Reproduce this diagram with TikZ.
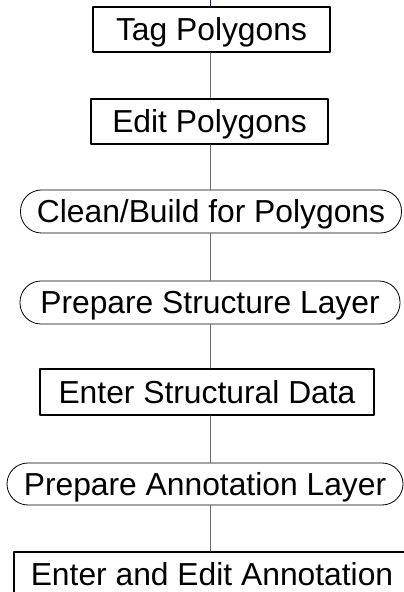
\documentclass[tikz,border=0pt]{standalone}
\usepackage{fontspec}
\setmainfont{Liberation Sans}
\usetikzlibrary{positioning}
\definecolor{linkgray}{RGB}{110,110,110}
\definecolor{topnavy}{RGB}{30,30,110}
\tikzset{
  stepbox/.style={draw=black,line width=2pt,rectangle,inner sep=0pt,
    minimum width=237pt,minimum height=45pt,text height=28pt,text depth=5.6pt,
    font=\fontsize{31.8}{36}\selectfont},
  roundbox/.style={draw=black,line width=0.8pt,rectangle,rounded corners=21pt,inner sep=0pt,
    minimum height=43pt,text height=28pt,text depth=5.6pt,
    font=\fontsize{31.8}{36}\selectfont},
  link/.style={draw=linkgray,line width=1pt}
}
\begin{document}
\begin{tikzpicture}[line cap=round,line join=round,x=1pt,y=1pt]
\useasboundingbox (0,0) rectangle (404,592);
\clip (0,0) rectangle (404,592);
\coordinate (top) at (210,592);
%
\node[stepbox] (tag) at (211.5,562.5) {Tag Polygons};
\node[stepbox] (edit) at (209.5,470.5) {Edit Polygons};
\node[roundbox,minimum width=381pt] (clean) at (211,380.5) {Clean/Build for Polygons};
\node[roundbox,minimum width=380pt] (prepstruct) at (210,289.5) {Prepare Structure Layer};
\node[stepbox,minimum width=334pt,minimum height=46pt] (enterstruct) at (207,200) {Enter Structural Data};
\node[roundbox,minimum width=396pt,minimum height=42pt] (prepanno) at (205,108) {Prepare Annotation Layer};
\node[stepbox,minimum width=396pt] (editanno) at (212,17.5) {Enter and Edit Annotation};
%
\draw[topnavy,line width=1pt] (top) -- (tag.north -| top);
\draw[link] (tag.south -| top) -- (edit.north -| top);
\draw[link] (edit.south -| top) -- (clean.north -| top);
\draw[link] (clean.south -| top) -- (prepstruct.north -| top);
\draw[link] (prepstruct.south -| top) -- (enterstruct.north -| top);
\draw[link] (enterstruct.south -| top) -- (prepanno.north -| top);
\draw[link] (prepanno.south -| top) -- (editanno.north -| top);
\end{tikzpicture}
\end{document}
